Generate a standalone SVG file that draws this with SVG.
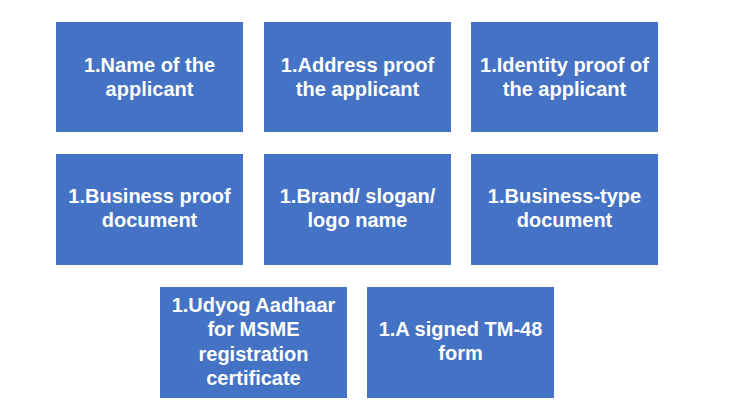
<svg xmlns="http://www.w3.org/2000/svg" width="738" height="413" viewBox="0 0 738 413">
<style>
.box{fill:#4472C4;}
.t{font-family:"Liberation Sans",Arial,sans-serif;font-weight:bold;font-size:20px;fill:#ffffff;text-anchor:middle;}
</style>
<rect width="738" height="413" fill="#ffffff"/>
<g id="n1"><rect class="box" x="56" y="22" width="187" height="110"/><text class="t" x="149.5" y="72">1.Name of the</text><text class="t" x="149.5" y="96">applicant</text></g>
<g id="n2"><rect class="box" x="264" y="22" width="187" height="110"/><text class="t" x="357.5" y="72">1.Address proof</text><text class="t" x="357.5" y="96">the applicant</text></g>
<g id="n3"><rect class="box" x="471" y="22" width="187" height="110"/><text class="t" x="564.5" y="72">1.Identity proof of</text><text class="t" x="564.5" y="96">the applicant</text></g>
<g id="n4"><rect class="box" x="56" y="154" width="187" height="111"/><text class="t" x="149.5" y="203">1.Business proof</text><text class="t" x="149.5" y="227">document</text></g>
<g id="n5"><rect class="box" x="264" y="154" width="187" height="111"/><text class="t" x="357.5" y="203">1.Brand/ slogan/</text><text class="t" x="357.5" y="227">logo name</text></g>
<g id="n6"><rect class="box" x="471" y="154" width="187" height="111"/><text class="t" x="564.5" y="203">1.Business-type</text><text class="t" x="564.5" y="227">document</text></g>
<g id="n7"><rect class="box" x="160" y="287" width="187" height="111"/><text class="t" x="253.5" y="312">1.Udyog Aadhaar</text><text class="t" x="253.5" y="336">for MSME</text><text class="t" x="253.5" y="361">registration</text><text class="t" x="253.5" y="385">certificate</text></g>
<g id="n8"><rect class="box" x="367" y="287" width="187" height="111"/><text class="t" x="460.5" y="336">1.A signed TM-48</text><text class="t" x="460.5" y="360">form</text></g>
<g id="connectors"></g>
</svg>
